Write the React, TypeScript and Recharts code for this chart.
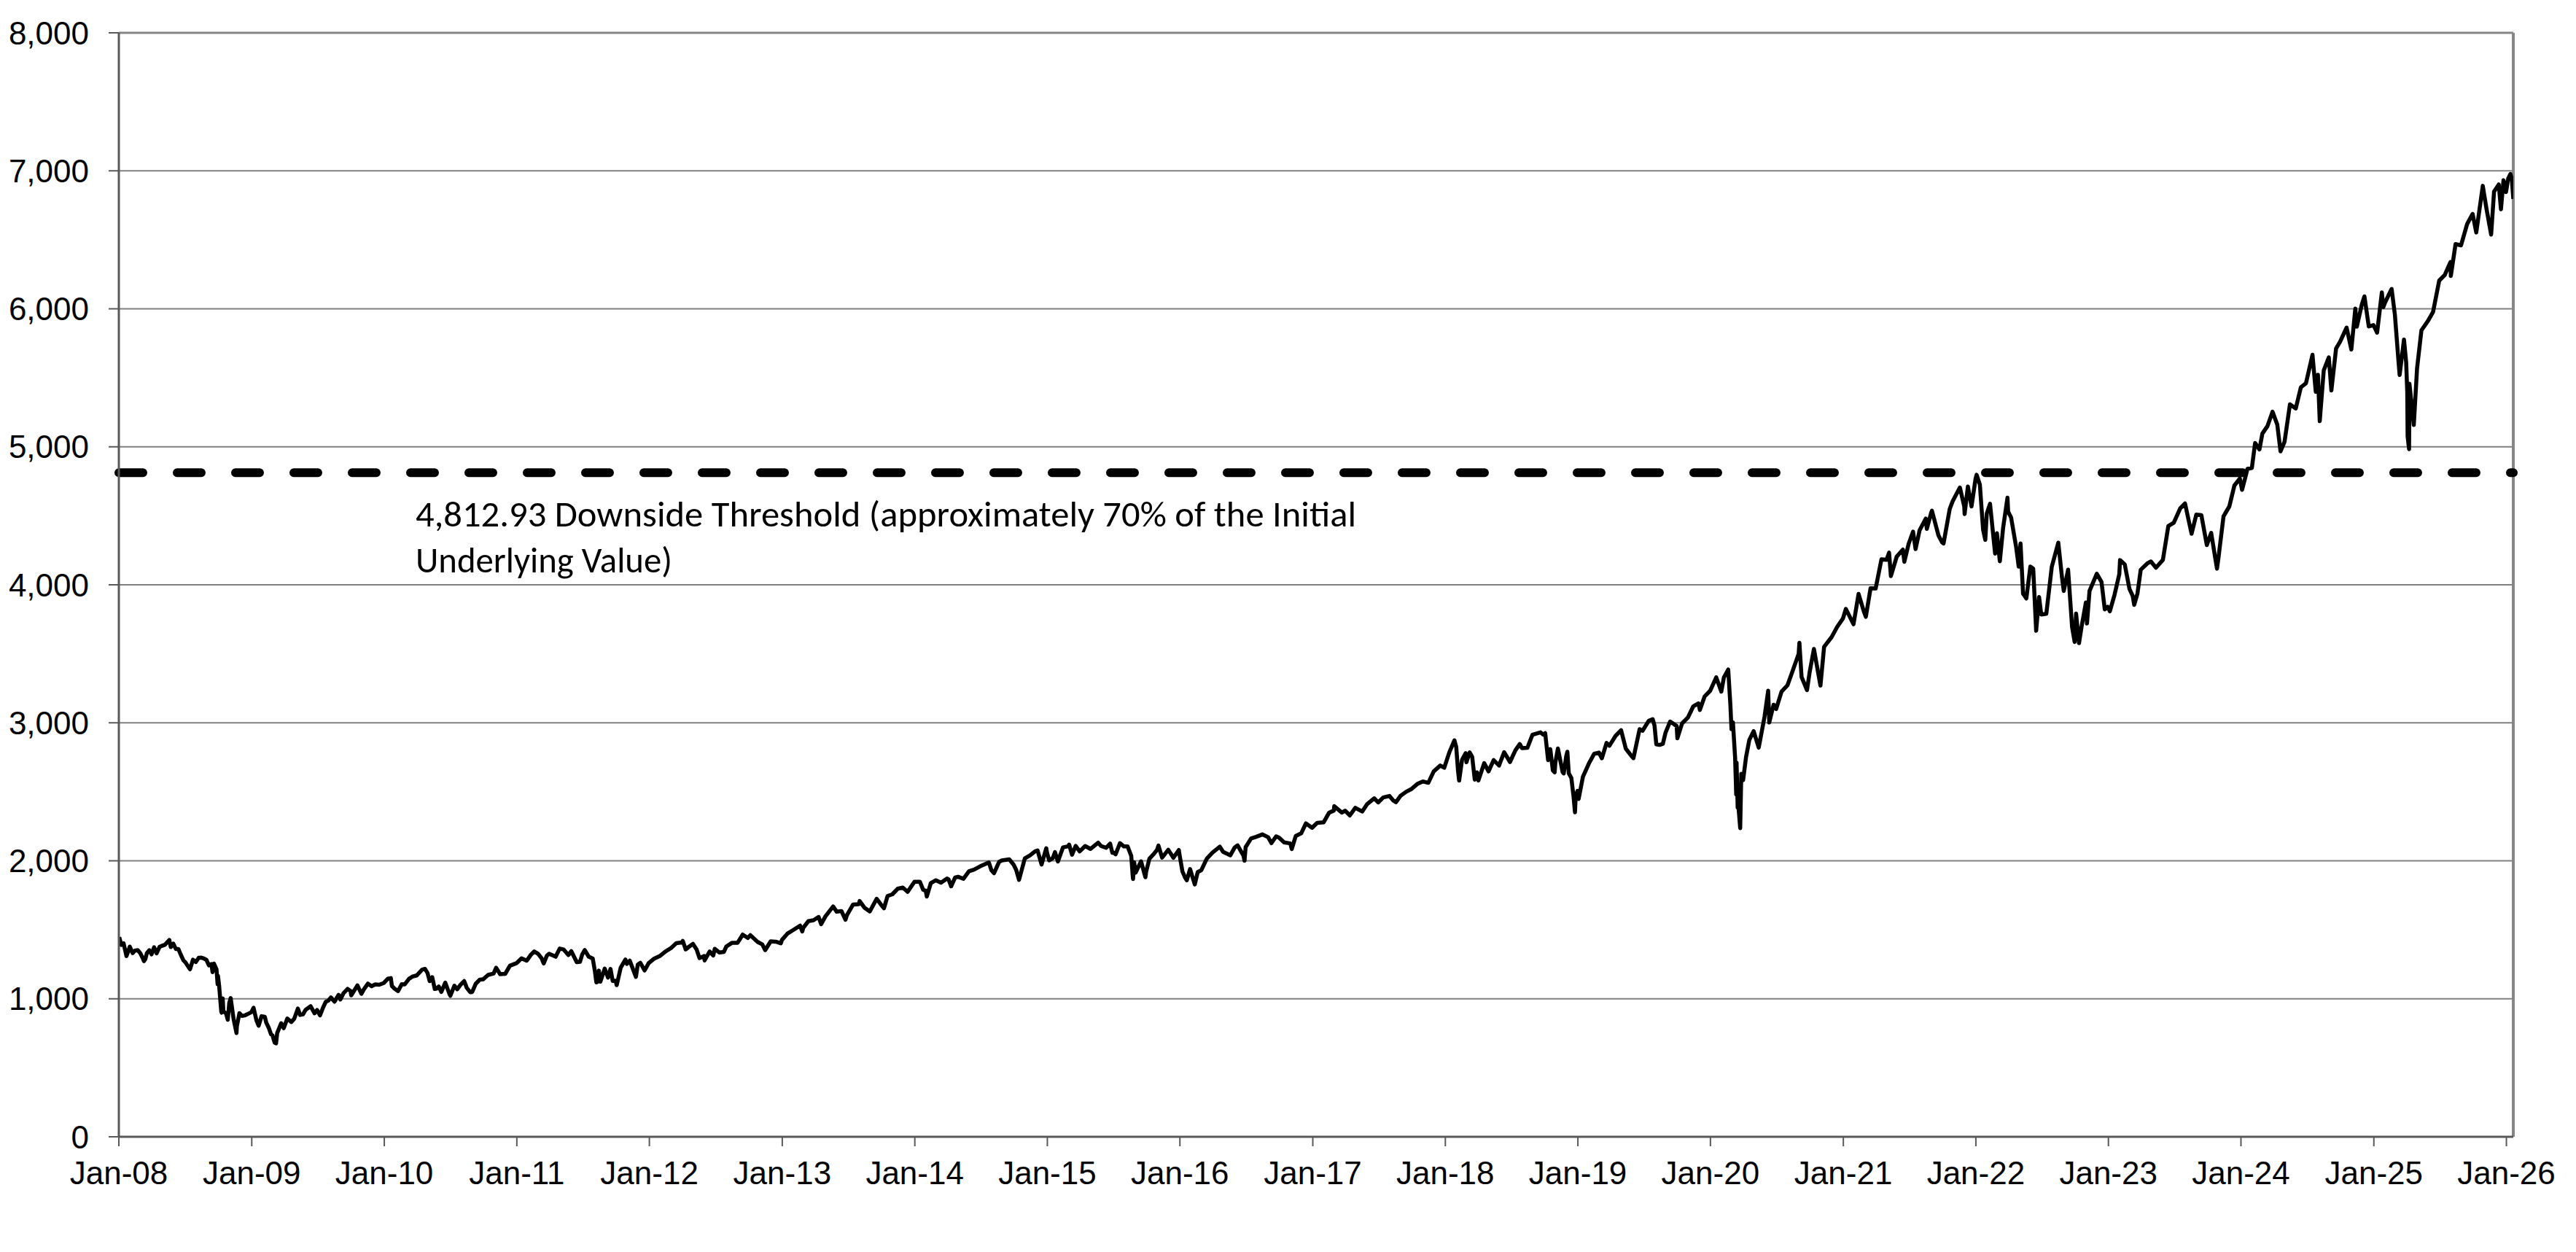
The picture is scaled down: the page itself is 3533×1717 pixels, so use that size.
import React from 'react';
import { LineChart, Line, XAxis, YAxis, CartesianGrid, ReferenceLine } from 'recharts';

type P = [string, number];

const y2008: P[] = [
  ['2008-01-02', 1447], ['2008-01-08', 1390], ['2008-01-14', 1402], ['2008-01-22', 1310], ['2008-01-28', 1353], ['2008-01-31', 1378],
  ['2008-02-08', 1331], ['2008-02-14', 1349], ['2008-02-22', 1353], ['2008-02-29', 1330], ['2008-03-07', 1293], ['2008-03-10', 1273],
  ['2008-03-14', 1288], ['2008-03-18', 1330], ['2008-03-25', 1352], ['2008-03-31', 1322], ['2008-04-07', 1373], ['2008-04-14', 1329],
  ['2008-04-22', 1376], ['2008-04-30', 1385], ['2008-05-07', 1392], ['2008-05-19', 1426], ['2008-05-23', 1375], ['2008-05-30', 1400],
  ['2008-06-06', 1361], ['2008-06-13', 1360], ['2008-06-20', 1317], ['2008-06-27', 1278], ['2008-07-03', 1262], ['2008-07-15', 1214],
  ['2008-07-23', 1283], ['2008-07-31', 1267], ['2008-08-08', 1297], ['2008-08-15', 1298], ['2008-08-22', 1292], ['2008-08-29', 1283],
  ['2008-09-05', 1242], ['2008-09-12', 1252], ['2008-09-15', 1193], ['2008-09-19', 1255], ['2008-09-26', 1213], ['2008-09-29', 1106],
  ['2008-09-30', 1166], ['2008-10-03', 1099], ['2008-10-09', 910], ['2008-10-10', 899], ['2008-10-13', 1003], ['2008-10-15', 908],
  ['2008-10-22', 896], ['2008-10-27', 848], ['2008-10-31', 969], ['2008-11-04', 1005], ['2008-11-12', 853], ['2008-11-20', 752],
  ['2008-11-21', 800], ['2008-11-28', 896], ['2008-12-05', 876], ['2008-12-12', 879], ['2008-12-19', 887], ['2008-12-31', 903],
];

const y2009: P[] = [
  ['2009-01-06', 935], ['2009-01-14', 843], ['2009-01-20', 805], ['2009-01-28', 874], ['2009-02-06', 869], ['2009-02-10', 827],
  ['2009-02-17', 789], ['2009-02-23', 743], ['2009-02-27', 735], ['2009-03-05', 683], ['2009-03-09', 677], ['2009-03-12', 751],
  ['2009-03-23', 823], ['2009-03-30', 787], ['2009-04-09', 857], ['2009-04-20', 832], ['2009-04-28', 855], ['2009-05-08', 929],
  ['2009-05-14', 883], ['2009-05-22', 887], ['2009-05-29', 919], ['2009-06-12', 946], ['2009-06-23', 895], ['2009-06-30', 919],
  ['2009-07-08', 880], ['2009-07-17', 940], ['2009-07-24', 979], ['2009-07-31', 987], ['2009-08-07', 1010], ['2009-08-17', 979],
  ['2009-08-28', 1029], ['2009-09-02', 995], ['2009-09-11', 1042], ['2009-09-22', 1072], ['2009-09-30', 1057], ['2009-10-02', 1025],
  ['2009-10-19', 1097], ['2009-10-30', 1036], ['2009-11-06', 1069], ['2009-11-17', 1110], ['2009-11-27', 1091], ['2009-12-07', 1104],
  ['2009-12-18', 1102], ['2009-12-31', 1115],
];

const y2010: P[] = [
  ['2010-01-11', 1146], ['2010-01-19', 1150], ['2010-01-22', 1092], ['2010-01-29', 1074], ['2010-02-08', 1056], ['2010-02-18', 1106],
  ['2010-02-26', 1104], ['2010-03-10', 1145], ['2010-03-19', 1160], ['2010-03-31', 1169], ['2010-04-15', 1211], ['2010-04-23', 1217],
  ['2010-04-30', 1187], ['2010-05-06', 1128], ['2010-05-13', 1157], ['2010-05-20', 1071], ['2010-05-25', 1074], ['2010-05-31', 1089],
  ['2010-06-07', 1050], ['2010-06-18', 1117], ['2010-06-30', 1031], ['2010-07-02', 1022], ['2010-07-13', 1095], ['2010-07-21', 1069],
  ['2010-07-30', 1102], ['2010-08-09', 1128], ['2010-08-16', 1080], ['2010-08-26', 1047], ['2010-08-31', 1049], ['2010-09-10', 1110],
  ['2010-09-21', 1139], ['2010-09-30', 1141], ['2010-10-14', 1173], ['2010-10-29', 1183], ['2010-11-05', 1225], ['2010-11-16', 1178],
  ['2010-11-30', 1181], ['2010-12-13', 1240], ['2010-12-31', 1258],
];

const y2011: P[] = [
  ['2011-01-14', 1293], ['2011-01-28', 1276], ['2011-01-31', 1286], ['2011-02-09', 1320], ['2011-02-18', 1343], ['2011-02-28', 1327],
  ['2011-03-10', 1295], ['2011-03-16', 1256], ['2011-03-25', 1314], ['2011-03-31', 1326], ['2011-04-18', 1305], ['2011-04-29', 1364],
  ['2011-05-10', 1357], ['2011-05-23', 1317], ['2011-05-31', 1345], ['2011-06-15', 1266], ['2011-06-24', 1268], ['2011-06-30', 1321],
  ['2011-07-07', 1353], ['2011-07-18', 1305], ['2011-07-29', 1292], ['2011-08-04', 1200], ['2011-08-08', 1119], ['2011-08-10', 1121],
  ['2011-08-15', 1204], ['2011-08-19', 1124], ['2011-08-31', 1219], ['2011-09-09', 1154], ['2011-09-16', 1216], ['2011-09-22', 1129],
  ['2011-09-30', 1131], ['2011-10-03', 1099], ['2011-10-14', 1225], ['2011-10-27', 1285], ['2011-10-31', 1253], ['2011-11-08', 1276],
  ['2011-11-25', 1159], ['2011-11-30', 1247], ['2011-12-07', 1261], ['2011-12-19', 1206], ['2011-12-30', 1258],
];

const y2012: P[] = [
  ['2012-01-13', 1289], ['2012-01-31', 1312], ['2012-02-15', 1344], ['2012-02-29', 1366], ['2012-03-15', 1403], ['2012-03-30', 1408],
  ['2012-04-02', 1419], ['2012-04-10', 1358], ['2012-04-20', 1379], ['2012-04-30', 1398], ['2012-05-10', 1358], ['2012-05-18', 1295],
  ['2012-05-31', 1310], ['2012-06-01', 1278], ['2012-06-15', 1343], ['2012-06-25', 1314], ['2012-06-29', 1362], ['2012-07-12', 1335],
  ['2012-07-24', 1339], ['2012-07-31', 1379], ['2012-08-15', 1405], ['2012-08-31', 1406], ['2012-09-14', 1465], ['2012-09-28', 1441],
  ['2012-10-05', 1461], ['2012-10-25', 1412], ['2012-11-07', 1394], ['2012-11-15', 1353], ['2012-11-30', 1416], ['2012-12-14', 1414],
  ['2012-12-28', 1402], ['2012-12-31', 1426],
];

const y2013: P[] = [
  ['2013-01-15', 1472], ['2013-01-31', 1498], ['2013-02-19', 1530], ['2013-02-25', 1488], ['2013-02-28', 1515], ['2013-03-14', 1563],
  ['2013-03-28', 1569], ['2013-04-11', 1593], ['2013-04-18', 1541], ['2013-04-30', 1598], ['2013-05-21', 1669], ['2013-05-31', 1631],
  ['2013-06-13', 1636], ['2013-06-24', 1573], ['2013-06-28', 1606], ['2013-07-15', 1683], ['2013-07-31', 1686], ['2013-08-02', 1709],
  ['2013-08-15', 1661], ['2013-08-30', 1633], ['2013-09-18', 1725], ['2013-09-30', 1682], ['2013-10-08', 1656], ['2013-10-18', 1745],
  ['2013-10-31', 1757], ['2013-11-15', 1798], ['2013-11-29', 1806], ['2013-12-12', 1775], ['2013-12-31', 1848],
];

const y2014: P[] = [
  ['2014-01-15', 1848], ['2014-01-24', 1790], ['2014-01-31', 1783], ['2014-02-03', 1741], ['2014-02-14', 1838], ['2014-02-28', 1859],
  ['2014-03-14', 1841], ['2014-03-31', 1872], ['2014-04-04', 1865], ['2014-04-11', 1815], ['2014-04-22', 1879], ['2014-04-30', 1884],
  ['2014-05-15', 1870], ['2014-05-30', 1924], ['2014-06-13', 1936], ['2014-06-30', 1960], ['2014-07-24', 1988], ['2014-07-31', 1931],
  ['2014-08-07', 1910], ['2014-08-21', 1992], ['2014-08-29', 2003], ['2014-09-18', 2011], ['2014-09-30', 1972], ['2014-10-07', 1935],
  ['2014-10-15', 1862], ['2014-10-31', 2018], ['2014-11-14', 2039], ['2014-11-28', 2068], ['2014-12-05', 2075], ['2014-12-16', 1973],
  ['2014-12-29', 2091], ['2014-12-31', 2059],
];

const y2015: P[] = [
  ['2015-01-06', 2003], ['2015-01-16', 2019], ['2015-01-22', 2063], ['2015-01-30', 1995], ['2015-02-13', 2097], ['2015-02-27', 2105],
  ['2015-03-02', 2117], ['2015-03-10', 2044], ['2015-03-20', 2108], ['2015-03-31', 2068], ['2015-04-15', 2107], ['2015-04-30', 2086],
  ['2015-05-21', 2131], ['2015-05-29', 2107], ['2015-06-12', 2094], ['2015-06-23', 2124], ['2015-06-29', 2058], ['2015-06-30', 2063],
  ['2015-07-08', 2047], ['2015-07-20', 2128], ['2015-07-31', 2104], ['2015-08-10', 2104], ['2015-08-20', 2036], ['2015-08-24', 1893],
  ['2015-08-25', 1868], ['2015-08-28', 1989], ['2015-09-01', 1914], ['2015-09-16', 1996], ['2015-09-28', 1881], ['2015-09-30', 1920],
  ['2015-10-09', 2015], ['2015-10-22', 2052], ['2015-10-30', 2079], ['2015-11-03', 2110], ['2015-11-13', 2023], ['2015-11-30', 2080],
  ['2015-12-14', 2022], ['2015-12-29', 2078], ['2015-12-31', 2044],
];

const y2016: P[] = [
  ['2016-01-08', 1922], ['2016-01-15', 1880], ['2016-01-20', 1859], ['2016-01-29', 1940], ['2016-02-05', 1880], ['2016-02-11', 1829],
  ['2016-02-19', 1918], ['2016-02-29', 1932], ['2016-03-15', 2015], ['2016-03-31', 2060], ['2016-04-20', 2102], ['2016-04-29', 2065],
  ['2016-05-19', 2040], ['2016-05-31', 2097], ['2016-06-08', 2112], ['2016-06-24', 2038], ['2016-06-27', 2001], ['2016-06-30', 2099],
  ['2016-07-15', 2162], ['2016-07-29', 2174], ['2016-08-15', 2191], ['2016-08-31', 2171], ['2016-09-09', 2128], ['2016-09-22', 2177],
  ['2016-09-30', 2168], ['2016-10-14', 2133], ['2016-10-31', 2126], ['2016-11-04', 2085], ['2016-11-15', 2180], ['2016-11-30', 2199],
  ['2016-12-13', 2271], ['2016-12-30', 2239],
];

const y2017: P[] = [
  ['2017-01-13', 2275], ['2017-01-31', 2279], ['2017-02-15', 2349], ['2017-02-28', 2364], ['2017-03-01', 2396], ['2017-03-22', 2349],
  ['2017-03-31', 2363], ['2017-04-13', 2329], ['2017-04-28', 2384], ['2017-05-17', 2357], ['2017-05-31', 2412], ['2017-06-19', 2453],
  ['2017-06-30', 2423], ['2017-07-14', 2459], ['2017-07-31', 2470], ['2017-08-10', 2438], ['2017-08-18', 2425], ['2017-08-31', 2472],
  ['2017-09-15', 2500], ['2017-09-29', 2519], ['2017-10-16', 2557], ['2017-10-31', 2575], ['2017-11-15', 2565], ['2017-11-30', 2648],
  ['2017-12-18', 2690], ['2017-12-29', 2674],
];

const y2018: P[] = [
  ['2018-01-12', 2786], ['2018-01-26', 2873], ['2018-01-31', 2824], ['2018-02-05', 2649], ['2018-02-08', 2581], ['2018-02-16', 2732],
  ['2018-02-26', 2780], ['2018-02-28', 2714], ['2018-03-09', 2786], ['2018-03-16', 2752], ['2018-03-23', 2588], ['2018-03-29', 2641],
  ['2018-04-02', 2582], ['2018-04-18', 2708], ['2018-04-30', 2648], ['2018-05-14', 2730], ['2018-05-29', 2690], ['2018-05-31', 2705],
  ['2018-06-12', 2787], ['2018-06-28', 2716], ['2018-07-13', 2801], ['2018-07-25', 2846], ['2018-07-31', 2816], ['2018-08-15', 2819],
  ['2018-08-29', 2914], ['2018-09-20', 2931], ['2018-09-28', 2914], ['2018-10-03', 2925], ['2018-10-11', 2729], ['2018-10-17', 2809],
  ['2018-10-24', 2656], ['2018-10-29', 2641], ['2018-10-31', 2712], ['2018-11-07', 2814], ['2018-11-20', 2642], ['2018-11-23', 2633],
  ['2018-11-30', 2760], ['2018-12-03', 2790], ['2018-12-07', 2633], ['2018-12-14', 2600], ['2018-12-20', 2467], ['2018-12-24', 2351],
  ['2018-12-26', 2468], ['2018-12-31', 2507],
];

const y2019: P[] = [
  ['2019-01-03', 2448], ['2019-01-15', 2610], ['2019-01-31', 2704], ['2019-02-15', 2776], ['2019-02-28', 2784], ['2019-03-08', 2743],
  ['2019-03-21', 2854], ['2019-03-29', 2834], ['2019-04-15', 2906], ['2019-04-30', 2946], ['2019-05-13', 2812], ['2019-05-31', 2752],
  ['2019-06-03', 2744], ['2019-06-20', 2954], ['2019-06-28', 2942], ['2019-07-15', 3014], ['2019-07-26', 3026], ['2019-07-31', 2980],
  ['2019-08-05', 2844], ['2019-08-14', 2840], ['2019-08-23', 2847], ['2019-08-30', 2926], ['2019-09-12', 3009], ['2019-09-30', 2977],
  ['2019-10-02', 2888], ['2019-10-15', 2996], ['2019-10-31', 3038], ['2019-11-15', 3120], ['2019-11-29', 3141], ['2019-12-03', 3093],
  ['2019-12-16', 3191], ['2019-12-31', 3231],
];

const y2020: P[] = [
  ['2020-01-17', 3330], ['2020-01-31', 3226], ['2020-02-07', 3328], ['2020-02-19', 3386], ['2020-02-25', 3128], ['2020-02-28', 2954],
  ['2020-03-03', 3003], ['2020-03-09', 2747], ['2020-03-12', 2481], ['2020-03-13', 2711], ['2020-03-16', 2386], ['2020-03-18', 2398],
  ['2020-03-23', 2237], ['2020-03-26', 2630], ['2020-03-31', 2585], ['2020-04-08', 2750], ['2020-04-17', 2875], ['2020-04-29', 2940],
  ['2020-05-13', 2820], ['2020-05-29', 3044], ['2020-06-08', 3232], ['2020-06-11', 3002], ['2020-06-23', 3131], ['2020-06-30', 3100],
  ['2020-07-15', 3227], ['2020-07-31', 3271], ['2020-08-14', 3373], ['2020-08-31', 3500], ['2020-09-02', 3580], ['2020-09-08', 3332],
  ['2020-09-23', 3237], ['2020-09-30', 3363], ['2020-10-12', 3535], ['2020-10-30', 3270], ['2020-11-09', 3550], ['2020-11-30', 3622],
  ['2020-12-15', 3695], ['2020-12-31', 3756],
];

const y2021: P[] = [
  ['2021-01-08', 3825], ['2021-01-29', 3714], ['2021-02-12', 3934], ['2021-02-26', 3811], ['2021-03-04', 3768], ['2021-03-17', 3975],
  ['2021-03-31', 3973], ['2021-04-16', 4185], ['2021-04-30', 4181], ['2021-05-07', 4233], ['2021-05-12', 4063], ['2021-05-28', 4204],
  ['2021-06-14', 4255], ['2021-06-18', 4167], ['2021-06-30', 4298], ['2021-07-12', 4385], ['2021-07-19', 4259], ['2021-07-30', 4395],
  ['2021-08-16', 4480], ['2021-08-19', 4405], ['2021-08-31', 4523], ['2021-09-02', 4537], ['2021-09-20', 4358], ['2021-09-30', 4308],
  ['2021-10-04', 4300], ['2021-10-21', 4550], ['2021-10-29', 4605], ['2021-11-18', 4705], ['2021-11-30', 4567], ['2021-12-01', 4513],
  ['2021-12-10', 4712], ['2021-12-20', 4568], ['2021-12-31', 4766],
];

const y2022: P[] = [
  ['2022-01-03', 4797], ['2022-01-12', 4726], ['2022-01-21', 4398], ['2022-01-27', 4326], ['2022-01-31', 4516], ['2022-02-09', 4587],
  ['2022-02-23', 4226], ['2022-02-28', 4374], ['2022-03-08', 4170], ['2022-03-17', 4412], ['2022-03-29', 4631], ['2022-03-31', 4530],
  ['2022-04-08', 4488], ['2022-04-22', 4272], ['2022-04-29', 4132], ['2022-05-04', 4300], ['2022-05-11', 3935], ['2022-05-20', 3901],
  ['2022-05-31', 4132], ['2022-06-08', 4116], ['2022-06-16', 3667], ['2022-06-24', 3912], ['2022-06-30', 3785], ['2022-07-14', 3790],
  ['2022-07-29', 4130], ['2022-08-16', 4305], ['2022-08-26', 4058], ['2022-08-31', 3955], ['2022-09-12', 4110], ['2022-09-23', 3693],
  ['2022-09-30', 3586], ['2022-10-04', 3791], ['2022-10-12', 3577], ['2022-10-19', 3695], ['2022-10-31', 3872], ['2022-11-03', 3720],
  ['2022-11-10', 3956], ['2022-11-30', 4080], ['2022-12-13', 4020], ['2022-12-22', 3822], ['2022-12-30', 3840],
];

const y2023: P[] = [
  ['2023-01-05', 3808], ['2023-01-18', 3929], ['2023-01-31', 4077], ['2023-02-02', 4179], ['2023-02-15', 4148], ['2023-02-28', 3970],
  ['2023-03-09', 3919], ['2023-03-13', 3855], ['2023-03-22', 3937], ['2023-03-31', 4109], ['2023-04-18', 4155], ['2023-04-28', 4169],
  ['2023-05-12', 4124], ['2023-05-31', 4180], ['2023-06-15', 4426], ['2023-06-30', 4450], ['2023-07-18', 4555], ['2023-07-31', 4589],
  ['2023-08-18', 4370], ['2023-08-31', 4508], ['2023-09-14', 4505], ['2023-09-29', 4288], ['2023-10-11', 4376], ['2023-10-27', 4117],
  ['2023-10-31', 4194], ['2023-11-14', 4496], ['2023-11-30', 4568], ['2023-12-14', 4720], ['2023-12-29', 4770],
];

const y2024: P[] = [
  ['2024-01-04', 4688], ['2024-01-19', 4840], ['2024-01-31', 4846], ['2024-02-09', 5027], ['2024-02-21', 4981], ['2024-02-29', 5096],
  ['2024-03-14', 5150], ['2024-03-28', 5254], ['2024-04-10', 5161], ['2024-04-19', 4967], ['2024-04-30', 5036], ['2024-05-15', 5308],
  ['2024-05-31', 5278], ['2024-06-14', 5431], ['2024-06-28', 5460], ['2024-07-16', 5667], ['2024-07-25', 5399], ['2024-07-31', 5522],
  ['2024-08-05', 5186], ['2024-08-16', 5554], ['2024-08-30', 5648], ['2024-09-06', 5408], ['2024-09-19', 5713], ['2024-09-30', 5762],
  ['2024-10-18', 5864], ['2024-10-31', 5705], ['2024-11-11', 6001], ['2024-11-15', 5870], ['2024-11-29', 6032], ['2024-12-06', 6090],
  ['2024-12-18', 5872], ['2024-12-31', 5882],
];

const y2025: P[] = [
  ['2025-01-10', 5827], ['2025-01-23', 6119], ['2025-01-27', 6012], ['2025-01-31', 6041], ['2025-02-19', 6144], ['2025-02-28', 5955],
  ['2025-03-10', 5615], ['2025-03-13', 5521], ['2025-03-25', 5777], ['2025-03-31', 5612], ['2025-04-03', 5397], ['2025-04-04', 5074],
  ['2025-04-08', 4983], ['2025-04-09', 5457], ['2025-04-21', 5158], ['2025-04-30', 5569], ['2025-05-12', 5844], ['2025-05-30', 5912],
  ['2025-06-13', 5977], ['2025-06-30', 6205], ['2025-07-15', 6244], ['2025-07-31', 6339], ['2025-08-01', 6238], ['2025-08-14', 6469],
  ['2025-08-29', 6460], ['2025-09-15', 6615], ['2025-09-30', 6688], ['2025-10-10', 6553], ['2025-10-28', 6891], ['2025-10-31', 6840],
  ['2025-11-07', 6728], ['2025-11-20', 6538], ['2025-11-28', 6849], ['2025-12-11', 6901], ['2025-12-17', 6721], ['2025-12-24', 6932],
  ['2025-12-31', 6846],
];

const y2026: P[] = [
  ['2026-01-06', 6944], ['2026-01-12', 6977], ['2026-01-16', 6940], ['2026-01-20', 6796],
];

const yearTickLabels = ['Jan-08', 'Jan-09', 'Jan-10', 'Jan-11', 'Jan-12', 'Jan-13', 'Jan-14', 'Jan-15', 'Jan-16', 'Jan-17',
  'Jan-18', 'Jan-19', 'Jan-20', 'Jan-21', 'Jan-22', 'Jan-23', 'Jan-24', 'Jan-25', 'Jan-26'];
const yTicks = [0, 1000, 2000, 3000, 4000, 5000, 6000, 7000, 8000];
const threshold = 4812.93;
const thresholdLines = ['4,812.93 Downside Threshold (approximately 70% of the Initial', 'Underlying Value)'];
const domainStart = '2008-01-01';
const domainEnd = '2026-01-20';

const toT = (s: string) => {
  const [y, m, d] = s.split('-').map(Number);
  return Date.UTC(y, m - 1, d);
};

const series: P[] = [
  ...y2008, ...y2009, ...y2010, ...y2011, ...y2012, ...y2013, ...y2014, ...y2015, ...y2016,
  ...y2017, ...y2018, ...y2019, ...y2020, ...y2021, ...y2022, ...y2023, ...y2024, ...y2025, ...y2026,
];
const data = series.map(([d, v]) => ({ t: toT(d), v }));
const xTicks = yearTickLabels.map((_, i) => Date.UTC(2008 + i, 0, 1));
const fmtX = (t: number) => {
  const i = xTicks.indexOf(t);
  return i >= 0 ? yearTickLabels[i] : '';
};
const fmtY = (v: number) => v.toLocaleString('en-US');

const labelFont = "Carlito, 'Liberation Sans Narrow', 'Open Sans', sans-serif";

const ThresholdLabel = (props: any) => {
  const vb = props.viewBox || {};
  const x = (vb.x || 0) + 407;
  const y = vb.y || 0;
  return (
    <g>
      <text x={x} y={y + 74} fontFamily={labelFont} fontSize={50}
        fill="#000" textLength={1290} lengthAdjust="spacingAndGlyphs">{thresholdLines[0]}</text>
      <text x={x} y={y + 137} fontFamily={labelFont} fontSize={50}
        fill="#000" textLength={352} lengthAdjust="spacingAndGlyphs">{thresholdLines[1]}</text>
    </g>
  );
};

const tickFont = { fontFamily: "'Liberation Sans', Arial, sans-serif", fontSize: 44, fill: '#000' };

export default function App() {
  return (
    <div style={{ position: 'absolute', left: 0, top: 0, width: 3533, height: 1717, background: '#fff' }}>
      <LineChart width={3533} height={1717} data={data} margin={{ top: 45, right: 86, left: 0, bottom: 0 }}>
        <CartesianGrid horizontal vertical={false} stroke="#808080" strokeWidth={2} />
        <XAxis
          dataKey="t"
          type="number"
          domain={[toT(domainStart), toT(domainEnd)]}
          ticks={xTicks}
          tickFormatter={fmtX}
          interval={0}
          height={158}
          tick={tickFont}
          tickSize={13}
          tickMargin={21}
          axisLine={{ stroke: '#595959', strokeWidth: 3 }}
          tickLine={{ stroke: '#595959', strokeWidth: 2 }}
          allowDataOverflow
        />
        <YAxis
          type="number"
          domain={[0, 8000]}
          ticks={yTicks}
          tickFormatter={fmtY}
          interval={0}
          width={163}
          tick={tickFont}
          tickSize={14}
          tickMargin={27}
          axisLine={{ stroke: '#595959', strokeWidth: 3 }}
          tickLine={{ stroke: '#595959', strokeWidth: 2 }}
        />
        <ReferenceLine y={8000} stroke="#868686" strokeWidth={3} />
        <ReferenceLine x={toT(domainEnd)} stroke="#868686" strokeWidth={4} />
        <ReferenceLine
          y={threshold}
          stroke="#000"
          strokeWidth={12}
          strokeDasharray="33 47"
          strokeLinecap="round"
          label={<ThresholdLabel />}
        />
        <Line
          type="linear"
          dataKey="v"
          stroke="#000"
          strokeWidth={5.5}
          strokeLinejoin="round"
          dot={false}
          activeDot={false}
          isAnimationActive={false}
        />
      </LineChart>
    </div>
  );
}
